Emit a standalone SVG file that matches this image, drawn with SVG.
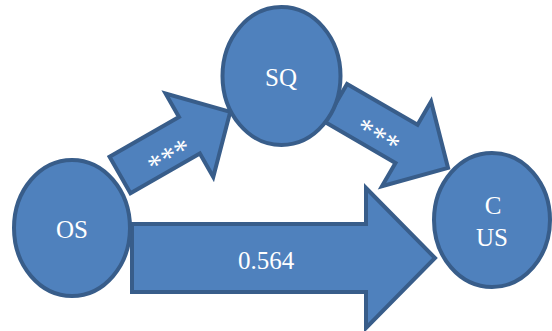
<svg xmlns="http://www.w3.org/2000/svg" width="552" height="331" viewBox="0 0 552 331">
<style>
.shape{fill:#4F81BD;stroke:#385D8A;stroke-width:4;stroke-linejoin:miter}
.lbl{font-family:'Liberation Serif','Times New Roman',serif;font-size:25px;fill:#FFFFFF;text-anchor:middle}
.ast{font-size:30px}
</style>
<rect width="552" height="331" fill="#FFFFFF"/>
<g id="connectors">
  <g id="arrow-os-sq" transform="translate(120,175) rotate(-29.8)">
    <polygon class="shape" points="0,-21 80,-21 80,-48 127,0 80,48 80,21 0,21"/>
    <text class="lbl ast" x="52" y="19">***</text>
  </g>
  <g id="arrow-sq-cus" transform="translate(336,103) rotate(30.1)">
    <polygon class="shape" points="0,-22 81.5,-22 81.5,-49 129.5,0 81.5,49 81.5,22 0,22"/>
    <text class="lbl ast" x="53" y="18">***</text>
  </g>
  <g id="arrow-os-cus">
    <polygon class="shape" points="132,224 366,224 366,188 435,258 366,328 366,292 132,292"/>
    <text class="lbl" x="266" y="269">0.564</text>
  </g>
</g>
<g id="node-os">
  <ellipse class="shape" cx="72" cy="228" rx="58" ry="68"/>
  <text class="lbl" x="72" y="238">OS</text>
</g>
<g id="node-sq">
  <ellipse class="shape" cx="281.5" cy="76" rx="59" ry="69"/>
  <text class="lbl" x="281" y="86">SQ</text>
</g>
<g id="node-cus">
  <ellipse class="shape" cx="492" cy="220" rx="58" ry="67"/>
  <text class="lbl" x="493" y="214">C</text>
  <text class="lbl" x="492" y="246">US</text>
</g>
</svg>
